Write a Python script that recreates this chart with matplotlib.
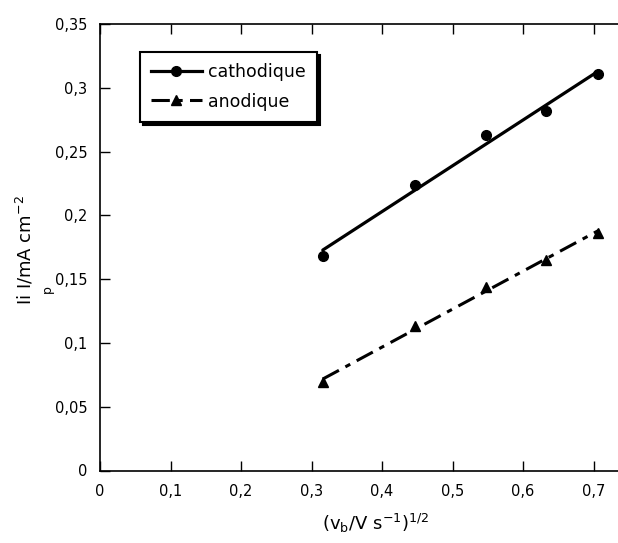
import numpy as np
import matplotlib
matplotlib.use("Agg")
import matplotlib.pyplot as plt
from matplotlib.lines import Line2D
from matplotlib.ticker import MultipleLocator, FuncFormatter

# sqrt of scan rate (V/s)^1/2 and peak current densities (mA/cm2)
v_sqrt = [0.316, 0.447, 0.548, 0.632, 0.707]
i_cath = [0.168, 0.224, 0.263, 0.282, 0.311]
i_anod = [0.069, 0.113, 0.144, 0.165, 0.186]
series_labels = ["cathodique", "anodique"]

fig = plt.figure(figsize=(6.18, 5.43), dpi=100)
ax = fig.add_axes([100 / 618, 1 - 470.5 / 543, 518 / 618, (470.5 - 24) / 543])

x = np.array(v_sqrt)
xfit = np.array([x.min(), x.max()])

# cathodique: points + linear fit
p_c = np.polyfit(x, i_cath, 1)
ax.plot(x, i_cath, "o", color="black", ms=7, ls="none")
ax.plot(xfit, np.polyval(p_c, xfit), color="black", lw=2.3, solid_capstyle="round")

# anodique: points + dash-dot fit
p_a = np.polyfit(x, i_anod, 1)
ax.plot(x, i_anod, "^", color="black", ms=6.5, ls="none")
ax.plot(xfit, np.polyval(p_a, xfit), color="black", lw=2.2,
        dashes=(6, 2.4, 1.8, 2.4))

ax.set_xlim(0, 518 / 705)
ax.set_ylim(0, 0.35)
ax.xaxis.set_major_locator(MultipleLocator(0.1))
ax.yaxis.set_major_locator(MultipleLocator(0.05))
fmt = FuncFormatter(lambda v, pos: ("%g" % round(v, 3)).replace(".", ","))
ax.xaxis.set_major_formatter(fmt)
ax.yaxis.set_major_formatter(fmt)

ax.spines["right"].set_visible(False)
for s in ["left", "top", "bottom"]:
    ax.spines[s].set_linewidth(1.2)
ax.tick_params(axis="x", direction="in", length=7, width=1, top=True, labelsize=10.5, pad=10)
ax.tick_params(axis="y", direction="in", length=7, width=1, labelsize=10.5, pad=9)

# axis labels
fig.text(25 / 618, 1 - 250 / 543, "Ii I/mA cm$^{-2}$", rotation=90,
         ha="center", va="center", fontsize=13)
fig.text(47 / 618, 1 - 289 / 543, "p", rotation=90, ha="center", va="center", fontsize=9)
fig.text(375 / 618, 1 - 523 / 543, r"(v$_{\mathrm{b}}$/V s$^{-1}$)$^{1/2}$",
         ha="center", va="center", fontsize=13)

handles = [
    Line2D([], [], color="black", lw=2.3, marker="o", ms=7),
    Line2D([], [], color="black", lw=2.2, marker="^", ms=6.5, dashes=(6, 2.4, 1.8, 2.4)),
]
leg = ax.legend(handles, series_labels, loc="upper left",
                bbox_to_anchor=(140 / 618, 1 - 52 / 543), bbox_transform=fig.transFigure,
                borderaxespad=0, fontsize=12.5, frameon=True, fancybox=False,
                shadow={"color": "black", "alpha": 1}, handlelength=2.9,
                handletextpad=0.35, borderpad=0.65, labelspacing=0.65)
leg.get_frame().set_edgecolor("black")
leg.get_frame().set_linewidth(1.5)

fig.savefig("out.png", dpi=100)
